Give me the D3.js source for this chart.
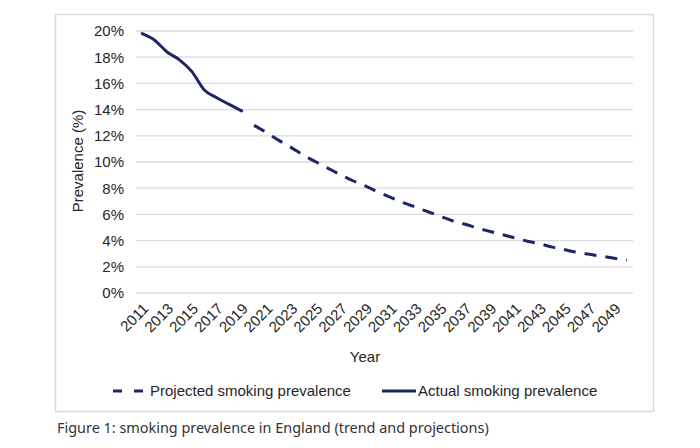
<!DOCTYPE html>
<html>
<head>
<meta charset="utf-8">
<script src="https://cdn.jsdelivr.net/npm/d3@7"></script>
<style>
  html, body { margin: 0; padding: 0; background: #fff; }
  svg { display: block; }
</style>
</head>
<body>
<svg id="chart" width="700" height="448"></svg>
<script>
// ---- data ----
const years = d3.range(2011, 2051);
const actualYears = [2011, 2012, 2013, 2014, 2015, 2016, 2017, 2018, 2019];
const actualValues = [19.8, 19.3, 18.4, 17.8, 16.9, 15.5, 14.9, 14.4, 13.9];
const projectedYears = [2020, 2021, 2022, 2023, 2024, 2025, 2026, 2027, 2028, 2029,
  2030, 2031, 2032, 2033, 2034, 2035, 2036, 2037, 2038, 2039,
  2040, 2041, 2042, 2043, 2044, 2045, 2046, 2047, 2048, 2049, 2050];
const projectedValues = [12.8, 12.25, 11.65, 11.1, 10.5, 10.0, 9.5, 9.0, 8.55, 8.15,
  7.7, 7.3, 6.9, 6.55, 6.2, 5.85, 5.5, 5.25, 4.95, 4.7,
  4.45, 4.2, 3.95, 3.75, 3.5, 3.3, 3.1, 2.95, 2.8, 2.65, 2.5];
const xTickLabels = ["2011","2013","2015","2017","2019","2021","2023","2025","2027","2029",
  "2031","2033","2035","2037","2039","2041","2043","2045","2047","2049"];
const yTicks = [0, 2, 4, 6, 8, 10, 12, 14, 16, 18, 20];
const seriesNames = ["Projected smoking prevalence", "Actual smoking prevalence"];
const yTitle = "Prevalence (%)";
const xTitle = "Year";
const caption = "Figure 1: smoking prevalence in England (trend and projections)";

// ---- layout ----
const svg = d3.select("#chart");
const font = "'Liberation Sans', Arial, sans-serif";
const lineColor = "#1c2566";
const textColor = "#262626";

svg.append("rect")
  .attr("x", 55.5).attr("y", 14.5).attr("width", 598).attr("height", 397)
  .attr("fill", "#fff").attr("stroke", "#d9d9d9").attr("stroke-width", 1.5);

const x = d3.scalePoint().domain(years).range([136, 633]).padding(0.5);
const y = d3.scaleLinear().domain([0, 20]).range([293, 31]);

// gridlines
svg.append("g").selectAll("line").data(yTicks).join("line")
  .attr("x1", 136).attr("x2", 633)
  .attr("y1", d => y(d)).attr("y2", d => y(d))
  .attr("stroke", "#d9d9d9").attr("stroke-width", 1.3);

// y axis
const yAxis = svg.append("g").attr("transform", "translate(124,0)")
  .call(d3.axisLeft(y).tickValues(yTicks).tickSize(0).tickPadding(0).tickFormat(d => d + "%"));
yAxis.select(".domain").remove();
yAxis.selectAll("text").attr("font-family", font).attr("font-size", 15).attr("fill", textColor);

// x axis
const xAxis = svg.append("g").attr("transform", "translate(0,293)")
  .call(d3.axisBottom(x).tickValues(xTickLabels.map(Number)).tickSize(0).tickFormat(d => String(d)));
xAxis.select(".domain").remove();
xAxis.selectAll("text")
  .attr("font-family", font).attr("font-size", 15).attr("fill", textColor)
  .attr("text-anchor", "end")
  .attr("x", 0).attr("y", 0).attr("dy", "0.35em")
  .attr("transform", "translate(3,13) rotate(-45)");

// axis titles
svg.append("text").attr("transform", "translate(83,161) rotate(-90)")
  .attr("text-anchor", "middle").attr("font-family", font).attr("font-size", 15)
  .attr("fill", textColor).text(yTitle);
svg.append("text").attr("x", 365).attr("y", 362)
  .attr("text-anchor", "middle").attr("font-family", font).attr("font-size", 15)
  .attr("fill", textColor).text(xTitle);

// lines
const line = d3.line().x(d => x(d[0])).y(d => y(d[1])).curve(d3.curveMonotoneX);
svg.append("path").datum(d3.zip(actualYears, actualValues))
  .attr("d", line).attr("fill", "none").attr("stroke", lineColor)
  .attr("stroke-width", 3).attr("stroke-linecap", "round");
svg.append("path").datum(d3.zip(projectedYears, projectedValues))
  .attr("d", line).attr("fill", "none").attr("stroke", lineColor)
  .attr("stroke-width", 3).attr("stroke-dasharray", "12,9");

// legend
const lg = svg.append("g");
lg.append("line").attr("x1", 113).attr("x2", 145).attr("y1", 391).attr("y2", 391)
  .attr("stroke", lineColor).attr("stroke-width", 3).attr("stroke-dasharray", "9,12");
lg.append("text").attr("x", 150).attr("y", 391).attr("dy", "0.35em")
  .attr("font-family", font).attr("font-size", 15).attr("fill", textColor).text(seriesNames[0]);
lg.append("line").attr("x1", 382).attr("x2", 416).attr("y1", 391).attr("y2", 391)
  .attr("stroke", lineColor).attr("stroke-width", 3);
lg.append("text").attr("x", 418).attr("y", 391).attr("dy", "0.35em")
  .attr("font-family", font).attr("font-size", 15).attr("fill", textColor).text(seriesNames[1]);

// caption
const cap = svg.append("text").attr("x", 57).attr("y", 433)
  .attr("font-family", "'Noto Sans', 'Open Sans', sans-serif").attr("font-size", 14)
  .attr("fill", "#333").text(caption);
const w = cap.node().getComputedTextLength();
cap.attr("font-size", 14 * 432 / w);
</script>
</body>
</html>
